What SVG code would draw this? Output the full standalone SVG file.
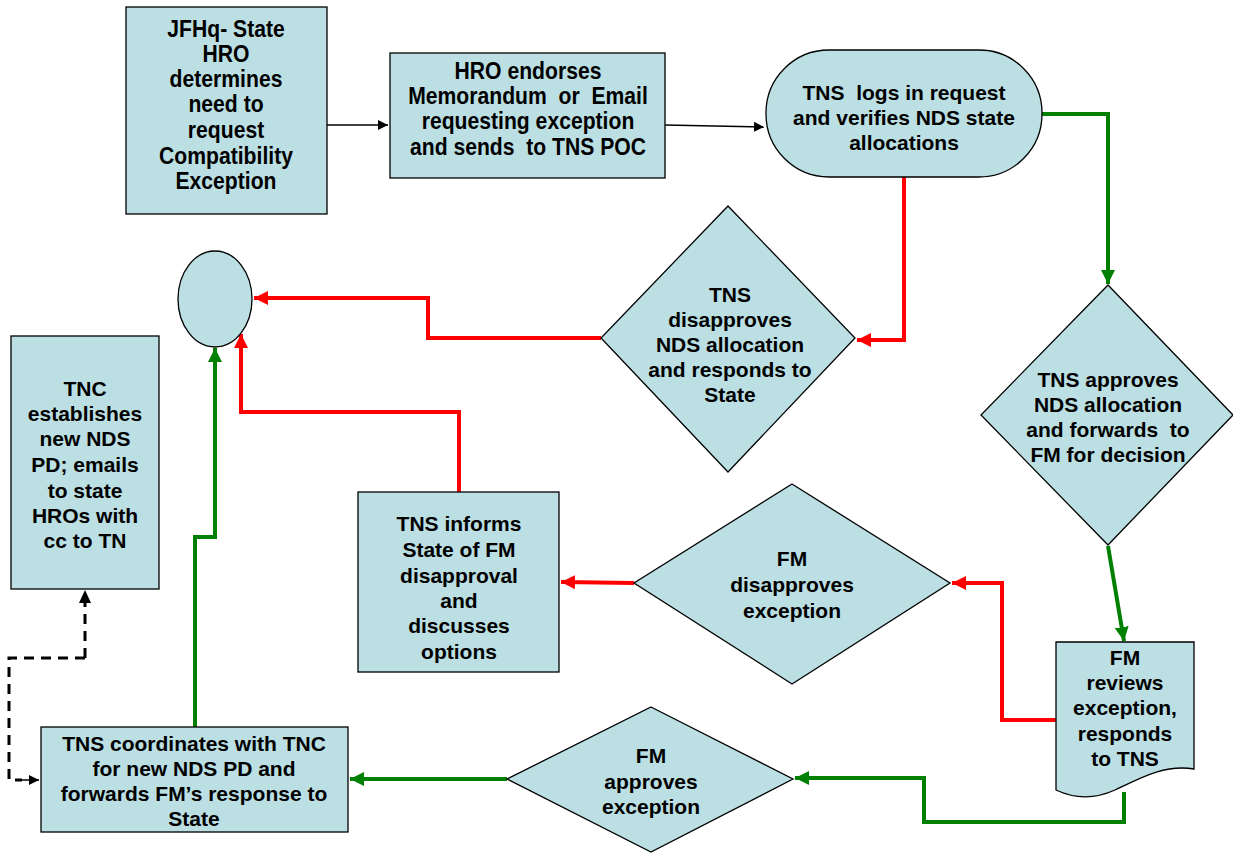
<svg xmlns="http://www.w3.org/2000/svg" width="1233" height="853" viewBox="0 0 1233 853">
<style>
.n{fill:#bbdfe3;stroke:#000;stroke-width:1.3}
.t{font-family:"Liberation Sans",Arial,sans-serif;font-weight:bold;font-size:21px;fill:#000;text-anchor:middle}
.tn{font-family:"Liberation Sans",Arial,sans-serif;font-weight:bold;font-size:23px;fill:#000;text-anchor:middle}
.r{fill:none;stroke:#ff0000;stroke-width:4}
.g{fill:none;stroke:#008000;stroke-width:4}
.k{fill:none;stroke:#000;stroke-width:1.5}
.d{fill:none;stroke:#000;stroke-width:3;stroke-dasharray:10,7}
</style>
<defs>
<marker id="ar" markerUnits="userSpaceOnUse" markerWidth="16" markerHeight="16" refX="14" refY="7" orient="auto"><path d="M0,0 L14,7 L0,14 Z" fill="#ff0000"/></marker>
<marker id="ag" markerUnits="userSpaceOnUse" markerWidth="16" markerHeight="16" refX="14" refY="7" orient="auto"><path d="M0,0 L14,7 L0,14 Z" fill="#008000"/></marker>
<marker id="ak" markerUnits="userSpaceOnUse" markerWidth="12" markerHeight="12" refX="10" refY="5" orient="auto"><path d="M0,0 L10,5 L0,10 Z" fill="#000"/></marker>
</defs>
<g id="connectors">
<path class="k" d="M327,125 H388" marker-end="url(#ak)"/>
<path class="k" d="M665,125 L764,127" marker-end="url(#ak)"/>
<path class="g" d="M1042,114 H1108 V284" marker-end="url(#ag)"/>
<path class="r" d="M904,177 V340 H857" marker-end="url(#ar)"/>
<path class="r" d="M601,338 H428 V298 H254" marker-end="url(#ar)"/>
<path class="r" d="M459,492 V412 H241 V334" marker-end="url(#ar)"/>
<path class="g" d="M195,727 V537 H215 V348" marker-end="url(#ag)"/>
<path class="g" d="M1108,546 L1124,641" marker-end="url(#ag)"/>
<path class="r" d="M1056,720 H1002 V583 H952" marker-end="url(#ar)"/>
<path class="r" d="M634,583 L561,582" marker-end="url(#ar)"/>
<path class="g" d="M1124,792 V822 H924 V778 H795" marker-end="url(#ag)"/>
<path class="g" d="M507,779 H350" marker-end="url(#ag)"/>
<path class="d" d="M85,658 H9 V780 H22"/>
<path class="k" d="M22,780 H39" stroke-width="2" marker-end="url(#ak)"/>
<path class="d" d="M85,658 V600"/>
<path d="M79,603 L85,590 L91,603 Z" fill="#000"/>
</g>
<g id="n1"><rect class="n" x="126" y="7" width="201" height="207"/>
<g transform="translate(226,0) scale(0.92,1)"><text class="tn" x="0" y="37">JFHq- State</text><text class="tn" x="0" y="62">HRO</text><text class="tn" x="0" y="87">determines</text><text class="tn" x="0" y="112">need to</text><text class="tn" x="0" y="138">request</text><text class="tn" x="0" y="164">Compatibility</text><text class="tn" x="0" y="189">Exception</text></g></g>
<g id="n2"><rect class="n" x="390" y="53" width="275" height="125"/>
<g transform="translate(528,0) scale(0.92,1)"><text class="tn" x="0" y="79">HRO endorses</text><text class="tn" x="0" y="104" xml:space="preserve">Memorandum  or  Email</text><text class="tn" x="0" y="129">requesting exception</text><text class="tn" x="0" y="155" xml:space="preserve">and sends  to TNS POC</text></g></g>
<g id="n3"><rect class="n" x="766" y="50" width="276" height="127" rx="63" ry="63"/>
<text class="t" x="904" y="100" xml:space="preserve">TNS  logs in request</text><text class="t" x="904" y="125">and verifies NDS state</text><text class="t" x="904" y="150">allocations</text></g>
<g id="n4"><path class="n" d="M1108,285 L1233,415 L1108,545 L981,415 Z"/>
<text class="t" x="1108" y="387">TNS approves</text><text class="t" x="1108" y="412">NDS allocation</text><text class="t" x="1108" y="437" xml:space="preserve">and forwards  to</text><text class="t" x="1108" y="462">FM for decision</text></g>
<g id="n5"><path class="n" d="M728,206 L855,338 L728,472 L601,338 Z"/>
<text class="t" x="730" y="302">TNS</text><text class="t" x="730" y="327">disapproves</text><text class="t" x="730" y="352">NDS allocation</text><text class="t" x="730" y="377">and responds to</text><text class="t" x="730" y="402">State</text></g>
<g id="n6"><ellipse class="n" cx="215" cy="299" rx="37" ry="48"/></g>
<g id="n7"><rect class="n" x="11" y="336" width="148" height="253"/>
<text class="t" x="85" y="396">TNC</text><text class="t" x="85" y="421">establishes</text><text class="t" x="85" y="446">new NDS</text><text class="t" x="85" y="472">PD; emails</text><text class="t" x="85" y="498">to state</text><text class="t" x="85" y="523">HROs with</text><text class="t" x="85" y="548">cc to TN</text></g>
<g id="n8"><rect class="n" x="358" y="492" width="201" height="180"/>
<text class="t" x="459" y="531">TNS informs</text><text class="t" x="459" y="557">State of FM</text><text class="t" x="459" y="583">disapproval</text><text class="t" x="459" y="608">and</text><text class="t" x="459" y="633">discusses</text><text class="t" x="459" y="659">options</text></g>
<g id="n9"><path class="n" d="M792,484 L950,583 L792,684 L634,583 Z"/>
<text class="t" x="792" y="566">FM</text><text class="t" x="792" y="592">disapproves</text><text class="t" x="792" y="618">exception</text></g>
<g id="n10"><path class="n" d="M1056,642 H1194 V769 C1165,764 1140,778 1115,790 C1095,799 1075,799 1056,790 Z"/>
<text class="t" x="1125" y="665">FM</text><text class="t" x="1125" y="690">reviews</text><text class="t" x="1125" y="715">exception,</text><text class="t" x="1125" y="741">responds</text><text class="t" x="1125" y="766">to TNS</text></g>
<g id="n11"><path class="n" d="M651,707 L793,779 L651,852 L507,779 Z"/>
<text class="t" x="651" y="763">FM</text><text class="t" x="651" y="789">approves</text><text class="t" x="651" y="814">exception</text></g>
<g id="n12"><rect class="n" x="41" y="727" width="307" height="105"/>
<text class="t" x="194" y="751">TNS coordinates with TNC</text><text class="t" x="194" y="776">for new NDS PD and</text><text class="t" x="194" y="801">forwards FM’s response to</text><text class="t" x="194" y="826">State</text></g>
</svg>
